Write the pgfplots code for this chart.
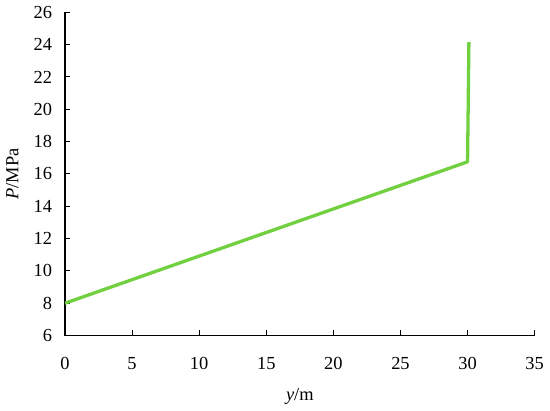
\documentclass[border=0pt]{standalone}
\usepackage{fontspec}
\setmainfont{Liberation Serif}
\usepackage{pgfplots}
\pgfplotsset{compat=1.18}
\definecolor{linegreen}{RGB}{112,208,64}

\begin{document}
\fontsize{14}{16}\selectfont
\begin{tikzpicture}
\begin{axis}[
  scale only axis,
  width=356bp, height=245bp,
  xmin=0, xmax=35, ymin=6, ymax=26,
  xtick={0,5,...,35}, ytick={6,8,...,26},
  axis x line=bottom, axis y line=left,
  axis line style={-, line width=0.9pt},
  tick style={black, line width=0.7pt},
  tick align=inside,
  major tick length=4pt,
  /pgf/number format/assume math mode=true,
  ticklabel style={font=\fontsize{14}{16}\selectfont},
  xticklabel style={yshift=-12pt},
  yticklabel style={xshift=-5pt},
  xlabel={\textit{y}/m},
  ylabel={\textit{P}/MPa},
  label style={font=\fontsize{14}{16}\selectfont},
  xlabel style={yshift=-4pt},
  ylabel style={yshift=2pt},
]
\addplot[linegreen, line width=2.5pt, line join=round]
  coordinates {(0,8.0)(30.0,16.75)(30.1,24.15)};
\end{axis}
\end{tikzpicture}
\end{document}
